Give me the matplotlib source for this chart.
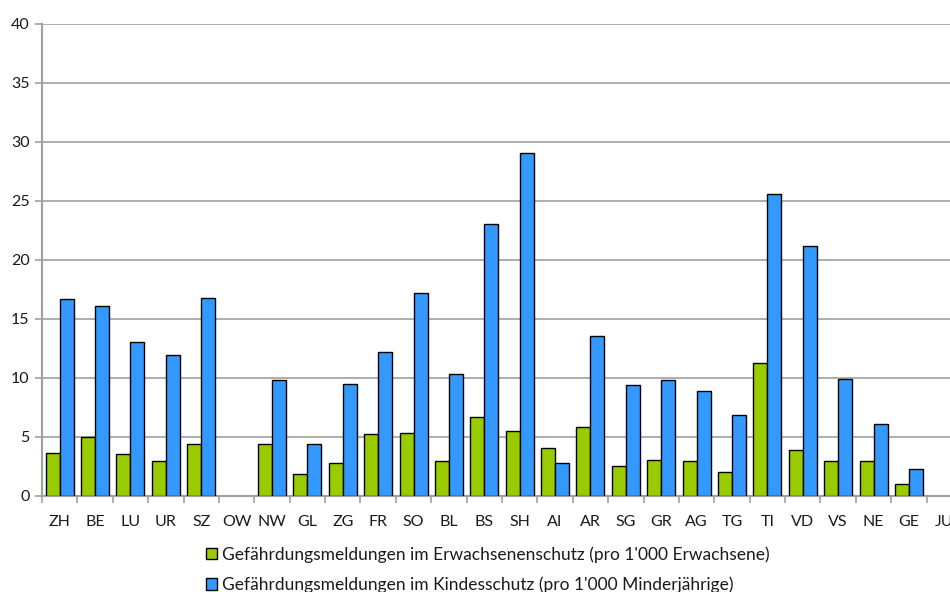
import matplotlib.pyplot as plt
import numpy as np
from matplotlib.patches import Patch

kantone = ['ZH', 'BE', 'LU', 'UR', 'SZ', 'OW', 'NW', 'GL', 'ZG', 'FR', 'SO', 'BL', 'BS',
           'SH', 'AI', 'AR', 'SG', 'GR', 'AG', 'TG', 'TI', 'VD', 'VS', 'NE', 'GE', 'JU']
erwachsene = [3.6, 5.0, 3.5, 2.9, 4.35, np.nan, 4.4, 1.8, 2.8, 5.2, 5.3, 2.95, 6.7,
              5.45, 4.05, 5.8, 2.55, 3.05, 2.9, 2.05, 11.25, 3.85, 2.95, 2.9, 0.95, np.nan]
kinder = [16.7, 16.1, 13.0, 11.95, 16.75, np.nan, 9.8, 4.4, 9.5, 12.2, 17.2, 10.35, 23.0,
          29.0, 2.8, 13.55, 9.35, 9.8, 8.9, 6.8, 25.6, 21.15, 9.9, 6.1, 2.3, np.nan]

label_erw = "Gefährdungsmeldungen im Erwachsenenschutz (pro 1'000 Erwachsene)"
label_kind = "Gefährdungsmeldungen im Kindesschutz (pro 1'000 Minderjährige)"

plt.rcParams['font.family'] = ['Lato', 'DejaVu Sans']
green = '#99CC00'
blue = '#3399FF'
grey = '#A0A0A0'
textcol = '#1a1a1a'

fig = plt.figure(figsize=(9.5, 5.92), dpi=100)
ax = fig.add_axes([42 / 950, 1 - 495.7 / 592, 920 / 950, (495.7 - 23.7) / 592])

x = np.arange(len(kantone))
w = 0.395
ax.bar(x - w / 2, erwachsene, w, color=green, edgecolor='black', linewidth=1, zorder=3)
ax.bar(x + w / 2, kinder, w, color=blue, edgecolor='black', linewidth=1, zorder=3)

ax.set_xlim(-0.5, len(kantone) - 0.5)
ax.set_ylim(0, 40)
ax.set_yticks(np.arange(0, 41, 5))
ax.yaxis.grid(True, color=grey, linewidth=1.2, zorder=0)
ax.set_axisbelow(True)

ax.set_xticks(x)
ax.set_xticklabels(kantone)
ax.set_xticks(np.arange(-0.5, len(kantone), 1), minor=True)
ax.tick_params(axis='x', which='major', length=0, pad=14, labelsize=11.5, labelcolor=textcol)
ax.tick_params(axis='x', which='minor', length=5, width=1.2, color=grey, direction='out')
ax.tick_params(axis='y', length=5, width=1.2, color=grey, labelsize=11.5, labelcolor=textcol, pad=4)

for s in ['top', 'right']:
    ax.spines[s].set_visible(False)
for s in ['left', 'bottom']:
    ax.spines[s].set_color(grey)
    ax.spines[s].set_linewidth(1.5)

handles = [Patch(facecolor=green, edgecolor='black', label=label_erw),
           Patch(facecolor=blue, edgecolor='black', label=label_kind)]
leg = fig.legend(handles=handles, loc='upper left', bbox_to_anchor=(206 / 950, 1 - 546 / 592),
                 frameon=False, fontsize=12.5, handlelength=0.65, handleheight=0.65,
                 handletextpad=0.3, labelspacing=0.8, borderaxespad=0, borderpad=0)
for t in leg.get_texts():
    t.set_color(textcol)

fig.savefig('out.png', dpi=100)
